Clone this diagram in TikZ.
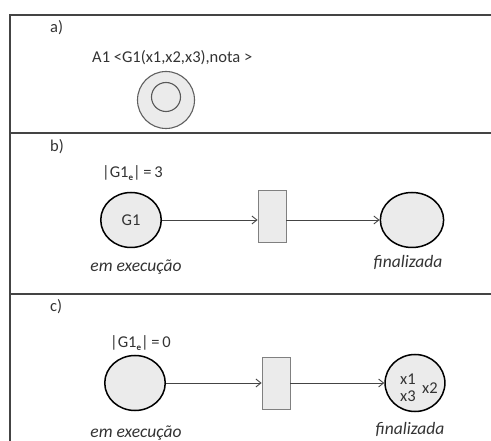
\documentclass[tikz,border=0pt]{standalone}
\usepackage{fontspec}
\setmainfont{Carlito}
\usetikzlibrary{arrows.meta}
\definecolor{framec}{HTML}{444444}
\definecolor{fillc}{HTML}{EBEBEB}
\definecolor{txtc}{HTML}{333333}
\tikzset{
  frameline/.style={draw=framec, line width=1.6pt},
  place/.style={circle, draw=black, line width=1.5pt, fill=fillc, inner sep=0pt},
  trans/.style={draw=gray, line width=0.8pt, fill=fillc, minimum width=28pt, minimum height=52pt, inner sep=0pt},
  arc/.style={draw=framec, line width=0.9pt, -{Straight Barb[length=5pt,width=8pt]}},
  lbl/.style={text=txtc, font=\fontsize{16.5}{18}\selectfont, inner sep=0pt},
  ilbl/.style={lbl, font=\fontsize{17.5}{19}\selectfont\itshape},
}
\newcommand{\esub}{\raisebox{-0.4ex}{\fontsize{9}{10}\selectfont\bfseries e}}
\begin{document}
\begin{tikzpicture}[x=1pt,y=-1pt]
\useasboundingbox (0,0) rectangle (491,441);
% frame
\draw[frameline] (491,15) -- (10,15) -- (10,441);
\draw[frameline] (10,133) -- (491,133);
\draw[frameline] (10,294) -- (491,294);
% a)
\node[lbl, anchor=west] (la) at (50,28) {a)};
\node[lbl, anchor=west] (ta) at (92,58) {A1 <G1(x1,x2,x3),nota >};
\node[circle, draw=gray!75!black, line width=1.1pt, fill=fillc, minimum size=57pt, inner sep=0pt] (outer) at (166,100) {};
\node[circle, draw=gray!70!black, line width=1.1pt, fill=fillc, minimum size=29pt, inner sep=0pt] (inner) at (166,97) {};
% b)
\node[lbl, anchor=west] (lb) at (50,147) {b)};
\node[lbl, anchor=west] (cb) at (102,173) {|G1\esub|\,=\,3};
\node[place, minimum size=55pt, xscale=1.1] (p1b) at (131,220) {};
\node[lbl] at (p1b) {G1};
\node[trans] (tb) at (272,216) {};
\node[place, minimum size=55pt, xscale=1.15] (p2b) at (412,220) {};
\draw[arc] (p1b.east) -- (tb.west |- p1b.east);
\draw[arc] (tb.east |- p2b.west) -- (p2b.west);
\node[ilbl] (eb) at (136,267) {em execução};
\node[ilbl] (fb) at (408,262) {finalizada};
% c)
\node[lbl, anchor=west] (lc) at (50,307) {c)};
\node[lbl, anchor=west] (cc) at (110,343) {|G1\esub|\,=\,0};
\node[place, minimum size=55pt, xscale=1.1] (p1c) at (135,383) {};
\node[trans] (tc) at (276,383) {};
\node[place, minimum size=57pt, xscale=1.05] (p2c) at (415,383) {};
\node[lbl] (x1) at (408,379) {x1};
\node[lbl] (x3) at (408,396) {x3};
\node[lbl] (x2) at (430,388) {x2};
\draw[arc] (p1c.east) -- (tc.west |- p1c.east);
\draw[arc] (tc.east |- p2c.west) -- (p2c.west);
\node[ilbl] (ec) at (136,433) {em execução};
\node[ilbl] (fc) at (410,429) {finalizada};
\end{tikzpicture}
\end{document}
